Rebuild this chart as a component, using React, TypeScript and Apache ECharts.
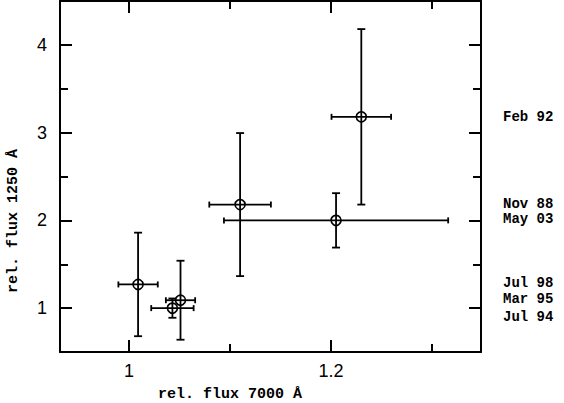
import React, { useEffect, useRef } from 'react';
import * as echarts from 'echarts';

// data
const fluxX = [1.009, 1.043, 1.051, 1.110, 1.205, 1.230];
const errX = [0.0195, 0.021, 0.0145, 0.0305, 0.111, 0.0295];
const fluxY = [1.27, 1.00, 1.09, 2.18, 2.00, 3.18];
const errY = [0.59, 0.11, 0.45, 0.815, 0.31, 1.0];

const epochNames = ['Feb 92', 'Nov 88', 'May 03', 'Jul 98', 'Mar 95', 'Jul 94'];
const epochLabelY = [3.173, 2.19, 2.01, 1.29, 1.105, 0.898];

const xMajor = [1, 1.2];
const xMinor = [1.1, 1.3];
const yMajor = [1, 2, 3, 4];
const yMinor = [1.5, 2.5, 3.5];

const X_MIN = 0.9317;
const X_MAX = 1.3485;
const Y_MIN = 0.5;
const Y_MAX = 4.5;

const xTitle = 'rel. flux 7000 Å';
const yTitle = 'rel. flux 1250 Å';

const MONO = '"Liberation Mono", "DejaVu Sans Mono", monospace';
const SANS = '"Liberation Sans", Arial, sans-serif';

export default function App() {
  const ref = useRef<HTMLDivElement>(null);

  useEffect(() => {
    if (!ref.current) return;
    const chart = echarts.init(ref.current, undefined, { renderer: 'svg' });
    const lineStyle = { color: '#000', width: 2 };

    const mkX = (pos: string, ticks: number[], len: number, labels: boolean, line: boolean) => ({
      type: 'value',
      position: pos,
      min: X_MIN,
      max: X_MAX,
      axisLine: { show: line, onZero: false, lineStyle },
      axisTick: { show: true, inside: true, length: len, customValues: ticks, lineStyle },
      axisLabel: labels
        ? { show: true, customValues: ticks, formatter: (v: number) => String(v), margin: 10, fontSize: 18, color: '#000', fontFamily: SANS }
        : { show: false },
      splitLine: { show: false },
    });
    const mkY = (pos: string, ticks: number[], len: number, labels: boolean, line: boolean) => ({
      type: 'value',
      position: pos,
      min: Y_MIN,
      max: Y_MAX,
      axisLine: { show: line, onZero: false, lineStyle },
      axisTick: { show: true, inside: true, length: len, customValues: ticks, lineStyle },
      axisLabel: labels
        ? { show: true, customValues: ticks, formatter: (v: number) => String(v), margin: 13, fontSize: 18, color: '#000', fontFamily: SANS }
        : { show: false },
      splitLine: { show: false },
    });

    const pointData = fluxX.map((x, i) => [x, fluxY[i], errX[i], errY[i]]);
    const labelData = epochLabelY.map((y, i) => [X_MAX, y, i]);

    chart.setOption({
      animation: false,
      backgroundColor: '#fff',
      grid: { left: 60, right: 83, top: 1, bottom: 51 },
      xAxis: [
        mkX('bottom', xMajor, 12, true, true),
        mkX('bottom', xMinor, 8, false, false),
        mkX('top', xMajor, 12, false, true),
        mkX('top', xMinor, 8, false, false),
      ],
      yAxis: [
        mkY('left', yMajor, 12, true, true),
        mkY('left', yMinor, 8, false, false),
        mkY('right', yMajor, 12, false, true),
        mkY('right', yMinor, 8, false, false),
      ],
      series: [
        {
          type: 'custom',
          xAxisIndex: 0,
          yAxisIndex: 0,
          data: pointData,
          encode: { x: 0, y: 1 },
          renderItem: (params: any, api: any) => {
            const x = api.value(0);
            const y = api.value(1);
            const ex = api.value(2);
            const ey = api.value(3);
            const c = api.coord([x, y]);
            const l = api.coord([x - ex, y]);
            const r = api.coord([x + ex, y]);
            const t = api.coord([x, y + ey]);
            const b = api.coord([x, y - ey]);
            const st = { stroke: '#000', lineWidth: 1.8, fill: null };
            const hc = 4;
            const vc = 3;
            return {
              type: 'group',
              children: [
                { type: 'line', shape: { x1: l[0], y1: c[1], x2: r[0], y2: c[1] }, style: st },
                { type: 'line', shape: { x1: l[0], y1: c[1] - vc, x2: l[0], y2: c[1] + vc }, style: st },
                { type: 'line', shape: { x1: r[0], y1: c[1] - vc, x2: r[0], y2: c[1] + vc }, style: st },
                { type: 'line', shape: { x1: c[0], y1: t[1], x2: c[0], y2: b[1] }, style: st },
                { type: 'line', shape: { x1: c[0] - hc, y1: t[1], x2: c[0] + hc, y2: t[1] }, style: st },
                { type: 'line', shape: { x1: c[0] - hc, y1: b[1], x2: c[0] + hc, y2: b[1] }, style: st },
                { type: 'circle', shape: { cx: c[0], cy: c[1], r: 5 }, style: { stroke: '#000', lineWidth: 1.6, fill: null } },
              ],
            };
          },
        },
        {
          type: 'custom',
          xAxisIndex: 0,
          yAxisIndex: 0,
          clip: false,
          data: labelData,
          encode: { x: 0, y: 1 },
          renderItem: (params: any, api: any) => {
            const p = api.coord([api.value(0), api.value(1)]);
            return {
              type: 'text',
              x: p[0] + 22,
              y: p[1],
              style: {
                text: epochNames[params.dataIndex],
                font: `bold 14px ${MONO}`,
                fill: '#000',
                textAlign: 'left',
                textVerticalAlign: 'middle',
                align: 'left',
                verticalAlign: 'middle',
              },
            };
          },
        },
      ],
      graphic: [
        {
          type: 'text',
          x: 158,
          y: 394,
          style: {
            text: xTitle,
            font: `bold 15px ${MONO}`,
            fill: '#000',
            textAlign: 'left',
            textVerticalAlign: 'middle',
          },
        },
        {
          type: 'text',
          x: 13,
          y: 221,
          rotation: Math.PI / 2,
          style: {
            text: yTitle,
            font: `bold 15px ${MONO}`,
            fill: '#000',
            textAlign: 'center',
            textVerticalAlign: 'middle',
          },
        },
      ],
    });

    return () => chart.dispose();
  }, []);

  return (
    <div
      ref={ref}
      style={{ position: 'fixed', left: 0, top: 0, width: 564, height: 403, background: '#fff' }}
    />
  );
}
